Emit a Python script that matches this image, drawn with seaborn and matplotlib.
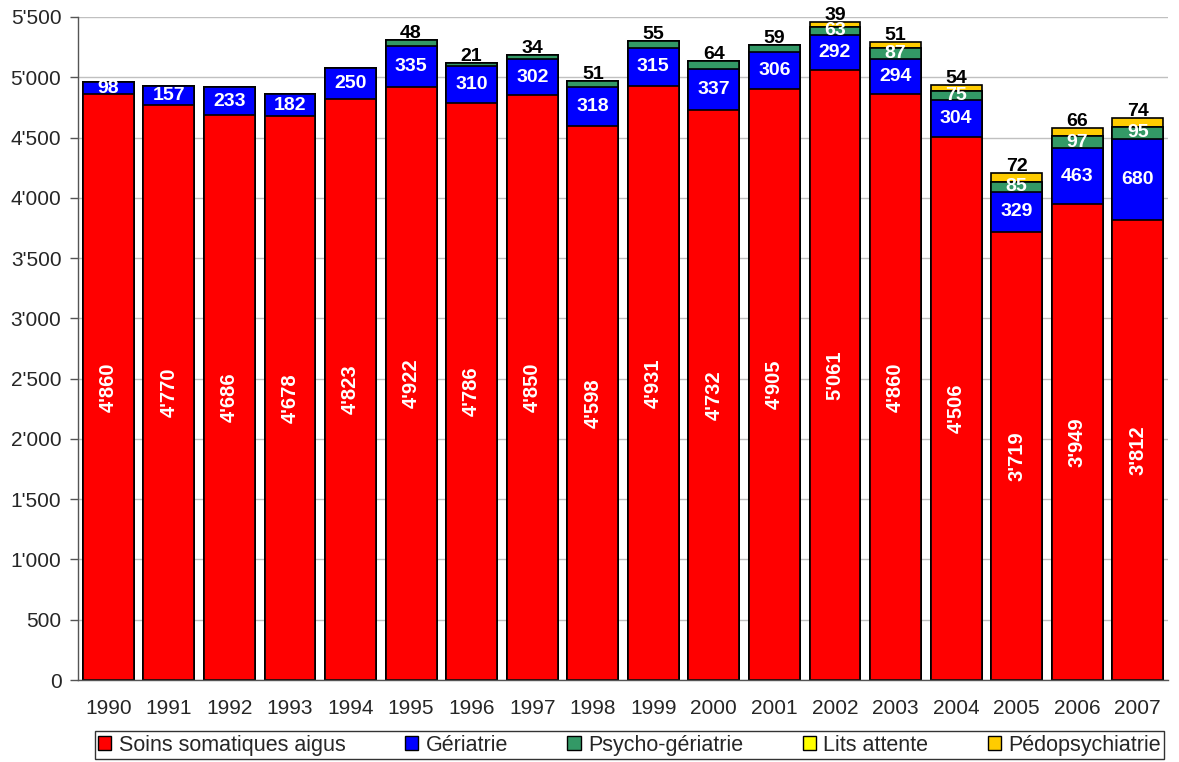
import numpy as np
import pandas as pd
import matplotlib
matplotlib.use("Agg")
import matplotlib.pyplot as plt
from matplotlib.patches import Patch
import seaborn as sns

years = [str(y) for y in range(1990, 2008)]
soins_somatiques = [4860, 4770, 4686, 4678, 4823, 4922, 4786, 4850, 4598,
                    4931, 4732, 4905, 5061, 4860, 4506, 3719, 3949, 3812]
geriatrie = [98, 157, 233, 182, 250, 335, 310, 302, 318,
             315, 337, 306, 292, 294, 304, 329, 463, 680]
psycho_geriatrie = [0, 0, 0, 0, 0, 48, 21, 34, 51,
                    55, 64, 59, 63, 87, 75, 85, 97, 95]
lits_attente = [0] * 18
pedopsychiatrie = [0, 0, 0, 0, 0, 0, 0, 0, 0,
                   0, 0, 0, 39, 51, 54, 72, 66, 74]

series_names = ["Soins somatiques aigus", "Gériatrie", "Psycho-gériatrie",
                "Lits attente", "Pédopsychiatrie"]
series_values = [soins_somatiques, geriatrie, psycho_geriatrie,
                 lits_attente, pedopsychiatrie]
series_colors = ["#FF0000", "#0000FF", "#339966", "#FFFF00", "#FFCC00"]

sns.set_theme(style="white")
plt.rcParams["font.family"] = ["Liberation Sans", "DejaVu Sans"]

df = pd.DataFrame({"year": years})
for name, vals in zip(series_names, series_values):
    df[name] = vals
cum = df[series_names].cumsum(axis=1)

fig = plt.figure(figsize=(11.79, 7.62), dpi=100)
ax = fig.add_axes([0.0662, 0.1076, 0.9245, 0.8701])

# stacked bars: draw cumulative totals from the top layer down
for name, color in reversed(list(zip(series_names, series_colors))):
    sns.barplot(x=df["year"], y=cum[name], order=years, color=color,
                saturation=1, edgecolor="black", linewidth=1.2,
                width=0.84, errorbar=None, ax=ax, zorder=2)

def fmt(v):
    return f"{v:,}".replace(",", "'")

lbl = dict(fontsize=14, fontweight="bold")
for i in range(len(years)):
    base = 0
    red = soins_somatiques[i]
    ax.text(i, red / 2, fmt(red), rotation=90, ha="center", va="center",
            color="white", zorder=5, fontsize=14.5, fontweight="bold")
    base += red
    blue = geriatrie[i]
    ax.text(i, base + blue / 2, fmt(blue), ha="center", va="center",
            color="white", zorder=5, **lbl)
    base += blue
    green = psycho_geriatrie[i]
    top_total = cum.iloc[i, -1]
    if green > 0:
        if pedopsychiatrie[i] > 0 or lits_attente[i] > 0:
            ax.text(i, base + green / 2, fmt(green), ha="center", va="center",
                    color="white", zorder=5, **lbl)
        else:
            ax.annotate(fmt(green), (i, top_total), xytext=(0, 1.5),
                        textcoords="offset points", ha="center",
                        va="baseline", color="black", zorder=5, **lbl)
    if pedopsychiatrie[i] > 0:
        ax.annotate(fmt(pedopsychiatrie[i]), (i, top_total), xytext=(0, 1.5),
                    textcoords="offset points", ha="center", va="baseline",
                    color="black", zorder=5, **lbl)

ax.set_ylim(0, 5500)
ax.set_xlim(-0.5, len(years) - 0.5)
yt = np.arange(0, 5501, 500)
ax.set_yticks(yt)
ax.set_yticklabels([fmt(int(v)) for v in yt], fontsize=15)
ax.yaxis.grid(True, color="#C0C0C0", linewidth=1)
ax.set_axisbelow(True)

ax.set_xticks(range(len(years)))
ax.set_xticklabels(years, fontsize=15)
ax.set_xticks(np.arange(-0.5, len(years), 1), minor=True)
ax.tick_params(axis="x", which="major", length=0, pad=14)
ax.tick_params(axis="x", which="minor", length=5, width=1, color="#555555",
               direction="out")
ax.tick_params(axis="y", length=6, width=1, color="#555555", direction="out",
               left=True, pad=6)
ax.set_xlabel("")
ax.set_ylabel("")
for s in ["top", "right"]:
    ax.spines[s].set_visible(False)
for s in ["left", "bottom"]:
    ax.spines[s].set_color("#555555")
    ax.spines[s].set_linewidth(1)

handles = [Patch(facecolor=c, edgecolor="black", linewidth=1, label=n)
           for n, c in zip(series_names, series_colors)]
leg = fig.legend(handles=handles, loc="lower center", ncol=5,
                 bbox_to_anchor=(0.534, 0.0), frameon=True, fancybox=False,
                 edgecolor="black", fontsize=15.5, handlelength=0.62,
                 handleheight=0.62, handletextpad=0.35, columnspacing=2.75,
                 borderpad=0.15, borderaxespad=0.15)
leg.get_frame().set_linewidth(1)

fig.savefig("out.png", dpi=100)
